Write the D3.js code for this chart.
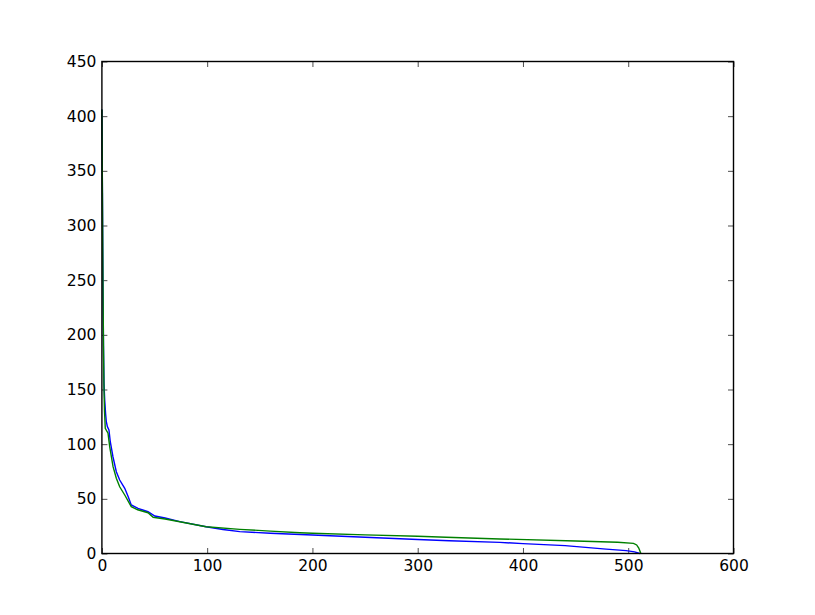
<!DOCTYPE html>
<meta charset="utf-8">
<style>
  body { margin: 0; background: #fff; }
  text { font-family: "DejaVu Sans", sans-serif; }
</style>
<svg width="815" height="615"></svg>
<script src="https://cdn.jsdelivr.net/npm/d3@7"></script>
<script>
// rank / value pairs
var blueX = [0, 0.5, 1, 1.5, 2, 2.7, 3.5, 4.2, 5.2, 6.7, 8, 10.5, 13.7, 16.9, 21.7, 25, 27.9, 34.3, 43.8, 50.3, 60, 74, 99, 115, 131, 160, 200, 250, 300, 330, 378, 400, 440, 479, 498, 506, 511];
var blueY = [406, 330, 250, 190, 155, 140, 128, 120.5, 116, 113, 102, 88.5, 74.8, 67.2, 59.6, 52, 44.4, 41.3, 38.2, 34.3, 32.5, 29.1, 24.5, 22, 20, 18.5, 16.9, 14.8, 12.8, 11.7, 10.2, 9, 7.2, 4, 2.6, 1.5, 0];

var greenX = [0, 0.5, 1, 1.5, 2, 2.5, 3.2, 5.8, 7.4, 10.6, 13.7, 16.9, 21.7, 27.9, 34, 43.8, 48.7, 60, 74, 99, 131, 160, 188, 200, 250, 300, 327, 378, 450, 490, 505, 508, 510, 512];
var greenY = [406, 330, 250, 190, 150, 130, 114.5, 110, 97.7, 79.4, 68.8, 61, 53.5, 42.8, 40, 37.3, 33.1, 31.5, 29, 24.5, 22.1, 20.5, 19, 18.5, 17, 15.8, 14.8, 13.3, 11.5, 10.3, 9.3, 7.8, 5, 0];

var xTicks = [0, 100, 200, 300, 400, 500, 600];
var yTicks = [0, 50, 100, 150, 200, 250, 300, 350, 400, 450];

var svg = d3.select("svg"),
    plotL = 101.9, plotR = 733.5, plotT = 61.5, plotB = 553.5;

var x = d3.scaleLinear().domain([0, 600]).range([plotL, plotR]);
var y = d3.scaleLinear().domain([0, 450]).range([plotB, plotT]);

var tick = 5.5;

function styleAxis(g) {
  g.select(".domain").remove();
  g.selectAll(".tick line").attr("stroke", "#000").attr("stroke-width", 0.7);
  g.selectAll(".tick text").attr("fill", "#000");
}

svg.append("g")
    .attr("transform", "translate(0," + plotB + ")")
    .call(d3.axisBottom(x).tickValues(xTicks).tickSize(-tick).tickPadding(6).tickFormat(d3.format("d")))
    .attr("font-size", 15.5)
    .call(styleAxis);
svg.append("g")
    .attr("transform", "translate(0," + plotT + ")")
    .call(d3.axisTop(x).tickValues(xTicks).tickSize(-tick).tickFormat(""))
    .call(styleAxis);
svg.append("g")
    .attr("transform", "translate(" + plotL + ",0)")
    .call(d3.axisLeft(y).tickValues(yTicks).tickSize(-tick).tickPadding(5.5).tickFormat(d3.format("d")))
    .attr("font-size", 15.5)
    .call(styleAxis);
svg.append("g")
    .attr("transform", "translate(" + plotR + ",0)")
    .call(d3.axisRight(y).tickValues(yTicks).tickSize(-tick).tickFormat(""))
    .call(styleAxis);

var line = d3.line()
    .x(function(d) { return x(d[0]); })
    .y(function(d) { return y(d[1]); });

svg.append("path")
    .datum(d3.zip(blueX, blueY))
    .attr("fill", "none")
    .attr("stroke", "#0000ff")
    .attr("stroke-width", 1.4)
    .attr("d", line);

svg.append("path")
    .datum(d3.zip(greenX, greenY))
    .attr("fill", "none")
    .attr("stroke", "#008000")
    .attr("stroke-width", 1.4)
    .attr("d", line);

svg.append("rect")
    .attr("x", plotL).attr("y", plotT)
    .attr("width", plotR - plotL).attr("height", plotB - plotT)
    .attr("fill", "none")
    .attr("stroke", "#000")
    .attr("stroke-width", 1.4);
</script>
